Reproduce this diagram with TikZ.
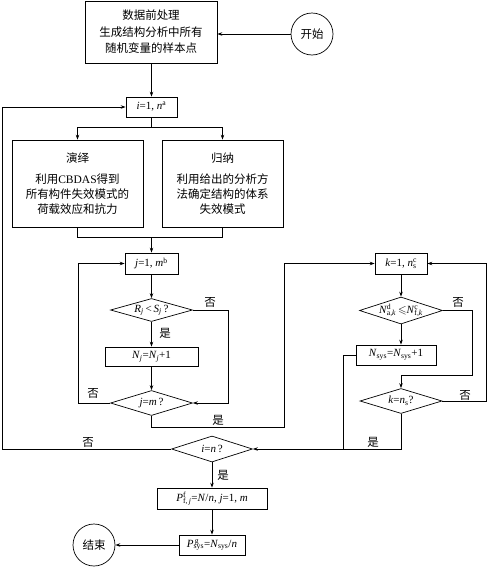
\documentclass[tikz,border=0pt]{standalone}
\usepackage{amssymb}
\usepackage{fontspec}
\setmainfont{Liberation Serif}
\newfontfamily\cjk{Noto Sans CJK SC}
\usetikzlibrary{shapes.geometric,arrows.meta}
\newcommand{\iv}[1]{\textit{#1}}
\newcommand{\ssb}[2]{\rlap{\textsuperscript{#1}}\textsubscript{#2}}
\begin{document}
\begin{tikzpicture}[x=1pt,y=-1pt, line width=0.7pt,
  font=\fontsize{11}{14}\selectfont,
  box/.style={draw, rectangle, inner sep=0pt, align=center},
  cbox/.style={box, font=\cjk\fontsize{11.5}{15}\selectfont},
  dia/.style={draw, diamond, inner sep=0pt},
  arr/.style={-{Stealth[length=5pt,width=3.5pt]}},
  lab/.style={font=\cjk\fontsize{11.5}{14}\selectfont, inner sep=0pt},
  term/.style={draw, circle, minimum size=42pt, inner sep=0pt, font=\cjk\fontsize{11.5}{14}\selectfont}]
\useasboundingbox (0,0) rectangle (487,568);

% nodes
\node[cbox, minimum width=132pt, minimum height=62pt, font=\cjk\fontsize{11.5}{16.5}\selectfont] (pre) at (151,32) {数据前处理\\生成结构分析中所有\\随机变量的样本点};
\node[term] (start) at (312,34) {开始};
\node[box, minimum width=51pt, minimum height=20pt] (iinit) at (151.5,107) {\iv{i}=1, \iv{n}\textsuperscript{a}};
\node[cbox, minimum width=131pt, minimum height=87pt] (ded) at (77.5,183.5) {演绎\\[6pt]利用{\rmfamily CBDAS}得到\\所有构件失效模式的\\荷载效应和抗力};
\node[cbox, minimum width=121pt, minimum height=87pt] (ind) at (222.5,183.5) {归纳\\[6pt]利用给出的分析方\\法确定结构的体系\\失效模式};

\node[box, minimum width=53pt, minimum height=21pt] (jinit) at (151.5,263.5) {\iv{j}=1, \iv{m}\textsuperscript{b}};
\node[dia, minimum width=82pt, minimum height=23pt] (d1) at (151.5,310) {};
\node (d1t) at (d1.center) {\iv{R}\textsubscript{\iv{j}}\,<\,\iv{S}\textsubscript{\iv{j}}\,?};
\node[box, minimum width=93pt, minimum height=19pt] (nj) at (151.5,356.5) {\iv{N}\textsubscript{\iv{j}}=\iv{N}\textsubscript{\iv{j}}+1};
\node[dia, minimum width=82pt, minimum height=25pt] (d2) at (151.5,403) {};
\node (d2t) at (d2.center) {\iv{j}=\iv{m}\,?};

\node[box, minimum width=52pt, minimum height=21pt] (kinit) at (401,263.5) {\iv{k}=1, \iv{n}\ssb{c}{s}};
\node[dia, minimum width=83pt, minimum height=27pt] (d3) at (401,310.5) {};
\node (d3t) at (d3.center) {\iv{N}\ssb{d}{a,\iv{k}}\,$\leqslant$\iv{N}\ssb{c}{f,\iv{k}}};
\node[box, minimum width=80pt, minimum height=20pt] (nsys) at (396,355) {\iv{N}\textsubscript{sys}=\iv{N}\textsubscript{sys}+1};
\node[dia, minimum width=82pt, minimum height=25pt] (d4) at (401,401) {};
\node (d4t) at (d4.center) {\iv{k}=\iv{n}\textsubscript{s}?};

\node[dia, minimum width=81pt, minimum height=26pt] (d5) at (212,449) {};
\node (d5t) at (d5.center) {\iv{i}=\iv{n}\,?};
\node[box, minimum width=110pt, minimum height=21pt] (pbox) at (212,498.5) {\iv{P}\ssb{f}{f,\,\iv{j}}=\iv{N}/\iv{n}, \iv{j}=1, \iv{m}};
\node[box, minimum width=66pt, minimum height=20pt] (psys) at (212,545) {\iv{P}\ssb{\,g}{sys}=\iv{N}\textsubscript{sys}/\iv{n}};
\node[term] (end) at (94,545) {结束};

% labels
\node[lab] (l1) at (210,302) {否};
\node[lab] (l2) at (165,333) {是};
\node[lab] (l3) at (93,393) {否};
\node[lab] (l4) at (218,420) {是};
\node[lab] (l5) at (458,302) {否};
\node[lab] (l6) at (465,395) {否};
\node[lab] (l7) at (373,442) {是};
\node[lab] (l8) at (88,442) {否};
\node[lab] (l9) at (223,475) {是};

% bend coordinates
\coordinate (ysplit) at (0,127);
\coordinate (yjoin) at (0,237);
\coordinate (xr1) at (228,0);
\coordinate (xl1) at (78,0);
\coordinate (yb1) at (0,427);
\coordinate (xk) at (284,0);
\coordinate (xr3) at (472,0);
\coordinate (yb3) at (0,375);
\coordinate (xn) at (343,0);
\coordinate (xr4) at (486,0);
\coordinate (xl5) at (2,0);

% connectors
\draw[arr] (start.west) -- (start.west -| pre.east);
\draw[arr] (iinit.north |- pre.south) -- (iinit.north);
\draw (iinit.south) -- (iinit.south |- ysplit);
\draw (ded.north |- ysplit) -- (ind.north |- ysplit);
\draw[arr] (ded.north |- ysplit) -- (ded.north);
\draw[arr] (ind.north |- ysplit) -- (ind.north);
\draw (ded.south) -- (ded.south |- yjoin) -- (ind.south |- yjoin) -- (ind.south);
\draw[arr] (jinit.north |- yjoin) -- (jinit.north);
\draw[arr] (jinit.south) -- (d1.north);
\draw[arr] (d1.south) -- (nj.north);
\draw[arr] (nj.south) -- (d2.north);
\draw[arr] (d1.east) -- (d1.east -| xr1) -- (d2.east -| xr1) -- (d2.east);
\draw[arr] (d2.west) -- (d2.west -| xl1) -- (jinit.west -| xl1) -- (jinit.west);
\draw[arr] (d2.south) -- (d2.south |- yb1) -- (xk |- yb1) -- (xk |- kinit.west) -- (kinit.west);
\draw[arr] (kinit.south) -- (d3.north);
\draw[arr] (d3.south) -- (d3.south |- nsys.north);
\draw[arr] (d3.east) -- (d3.east -| xr3) -- (xr3 |- yb3) -- (d4.north |- yb3) -- (d4.north);
\draw (nsys.west) -- (nsys.west -| xn) -- (xn |- d5.east);
\draw[arr] (d4.east) -- (d4.east -| xr4) -- (kinit.east -| xr4) -- (kinit.east);
\draw[arr] (d4.south) -- (d4.south |- d5.east) -- (d5.east);
\draw[arr] (d5.west) -- (d5.west -| xl5) -- (xl5 |- iinit.west) -- (iinit.west);
\draw[arr] (d5.south) -- (pbox.north);
\draw[arr] (pbox.south) -- (psys.north);
\draw[arr] (psys.west) -- (end.east);
\end{tikzpicture}
\end{document}
